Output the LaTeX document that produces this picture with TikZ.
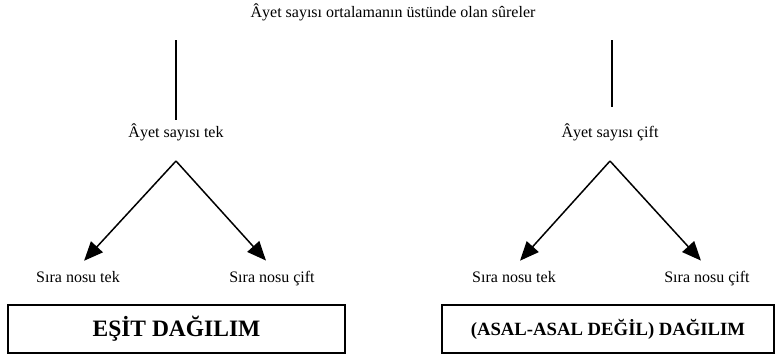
\documentclass[tikz,border=0pt]{standalone}
\usepackage{fontspec}
\setmainfont{Liberation Serif}
\usepackage{tikz}
\usetikzlibrary{arrows.meta, positioning}

\begin{document}
\begin{tikzpicture}[x=1pt, y=-1pt,
        txt/.style={anchor=base, font=\fontsize{16}{19}\selectfont},
        res/.style={draw, line width=1.6pt, minimum height=48pt, inner sep=0pt},
        arr/.style={line width=1.5pt, -{Triangle[length=19pt, width=16pt]}}]
        \useasboundingbox (0, 0) rectangle (775, 357);

        \node[txt] (top) at (393, 17) {Âyet sayısı ortalamanın üstünde olan sûreler};

        \node[txt] (tek) at (176, 137) {Âyet sayısı tek};
        \node[txt] (cift) at (610, 137) {Âyet sayısı çift};

        \node[txt] (s1) at (78, 282) {Sıra nosu tek};
        \node[txt] (s2) at (272, 282) {Sıra nosu çift};
        \node[txt] (s3) at (514, 282) {Sıra nosu tek};
        \node[txt] (s4) at (707, 282) {Sıra nosu çift};

        \node[res, minimum width=337pt, font=\fontsize{23.5}{28}\selectfont\bfseries] (esit) at (176.5, 329) {EŞİT DAĞILIM};
        \node[res, minimum width=332pt, font=\fontsize{18.7}{22}\selectfont\bfseries] (asal) at (608, 329) {(ASAL-ASAL DEĞİL) DAĞILIM};

        \coordinate (lt) at (176, 40);
        \coordinate (rt) at (612, 40);
        \coordinate (ta) at (176, 161);
        \coordinate (ca) at (610, 161);

        \draw[line width=1.5pt, shorten >=13pt] (lt) -- (tek.north)
            (rt) -- (rt |- cift.north);
        \draw[arr, shorten >=9pt] (ta) -- (s1.north);
        \draw[arr, shorten >=9pt] (ta) -- (s2.north);
        \draw[arr, shorten >=9pt] (ca) -- (s3.north);
        \draw[arr, shorten >=9pt] (ca) -- (s4.north);
    \end{tikzpicture}
\end{document}
